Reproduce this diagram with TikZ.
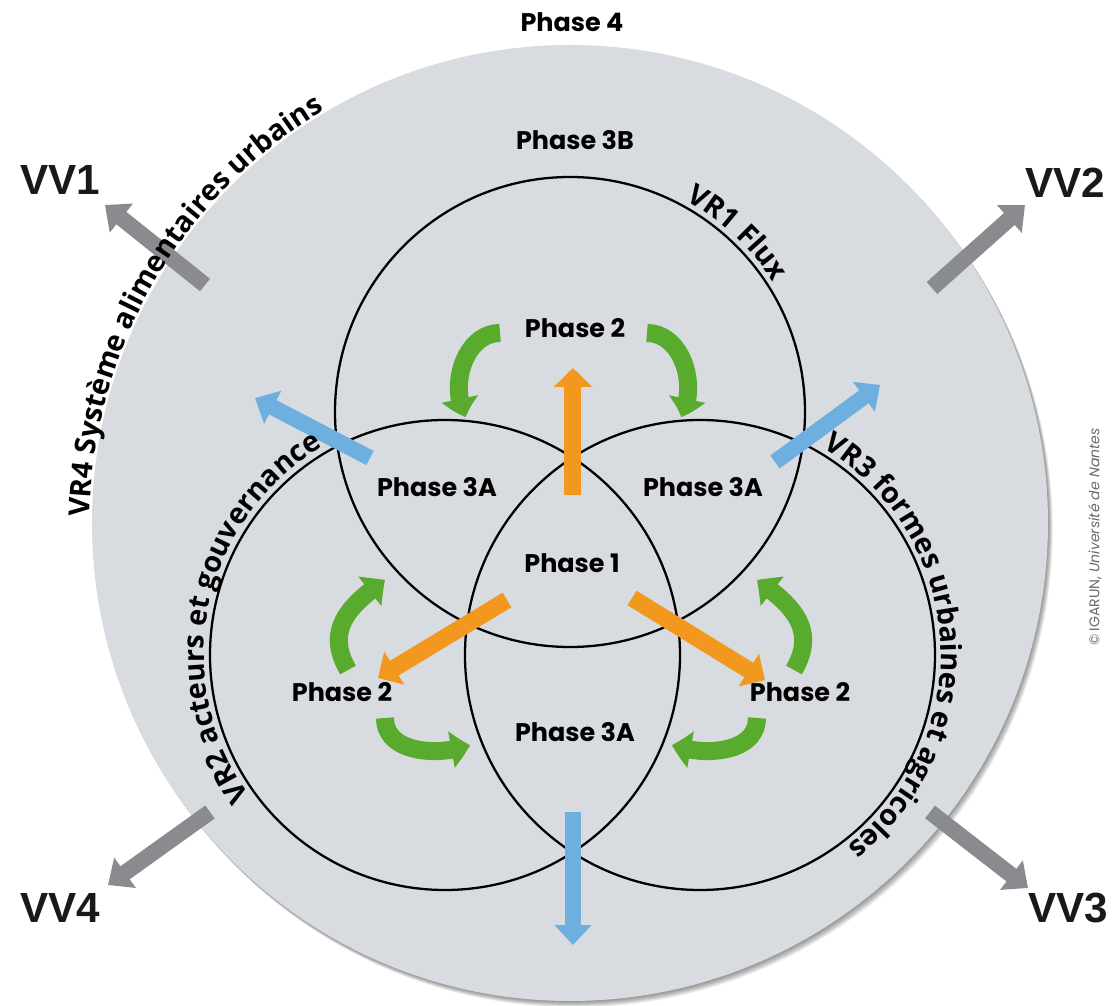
\documentclass[tikz,border=0pt]{standalone}
\usepackage{fontspec}
\usetikzlibrary{arrows.meta,bending,calc,decorations.text}

\newfontfamily\phasefont{Poppins}
\newfontfamily\vrfont{Open Sans}
\newfontfamily\vvfont{Liberation Sans}

\definecolor{discgray}{RGB}{216,219,223}
\definecolor{vvgray}{RGB}{137,139,142}
\definecolor{flowblue}{RGB}{109,176,224}
\definecolor{floworange}{RGB}{243,152,30}
\definecolor{loopgreen}{RGB}{88,171,44}
\definecolor{creditgray}{RGB}{105,105,108}

\begin{document}
\begin{tikzpicture}[scale=2,
    phase/.style={font=\phasefont\bfseries\fontsize{14.5}{16}\selectfont},
    vv/.style={font=\vvfont\bfseries\fontsize{24}{27}\selectfont, text=black!90},
    ring/.style={draw=black, line width=1.3pt},
    grayarrow/.style={vvgray, line width=0.32cm, -{Triangle[width=0.72cm,length=0.42cm]}},
    bluearrow/.style={flowblue, line width=0.32cm, -{Triangle[width=0.72cm,length=0.40cm]}},
    orangearrow/.style={floworange, line width=0.34cm, -{Triangle[width=0.75cm,length=0.38cm]}},
    greenarrow/.style={loopgreen, line width=0.36cm, -{Triangle[width=0.72cm,length=0.38cm,bend]}},
    vrtext/.style={decorate, decoration={text along path, text align=center,
        text={|\vrfont\bfseries\fontsize{16.4}{18}\selectfont|#1}}}
]
    \useasboundingbox (-5.70,-4.83) rectangle (5.48,5.23);
    \fill[white] (-5.70,-4.83) rectangle (5.48,5.23);

    % phase 4 disc and its shadow
    \foreach \k in {1,...,8}
        \fill[black, opacity=0.06] (0.006*\k,-0.008*\k) circle (4.78);
    \fill[discgray] (0,0) circle (4.78);

    \coordinate (c1) at (0,1.11);
    \coordinate (c2) at (-1.25,-1.32);
    \coordinate (c3) at (1.30,-1.32);
    \draw[ring] (c1) circle (2.35);
    \draw[ring] (c2) circle (2.35);
    \draw[ring] (c3) circle (2.35);

    \node[phase] (p4) at (0.02,5.01) {Phase 4};
    \node[phase] (p3b) at (0.05,3.83) {Phase 3B};
    \node[phase] (p2t) at (0.05,1.95) {Phase 2};
    \node[phase] (p3l) at (-1.33,0.36) {Phase 3A};
    \node[phase] (p3r) at (1.33,0.36) {Phase 3A};
    \node[phase] (p1) at (0.02,-0.40) {Phase 1};
    \node[phase] (p2l) at (-2.28,-1.69) {Phase 2};
    \node[phase] (p2r) at (2.30,-1.69) {Phase 2};
    \node[phase] (p3d) at (0.05,-2.09) {Phase 3A};

    \node[vv] (vv1) at (-5.10,3.43) {VV1};
    \node[vv] (vv2) at (4.95,3.40) {VV2};
    \node[vv] (vv3) at (4.98,-3.85) {VV3};
    \node[vv] (vv4) at (-5.10,-3.85) {VV4};

    % outgoing arrows
    \coordinate (g1a) at (-3.65,2.38);  \coordinate (g1b) at (-4.65,3.18);
    \coordinate (g2a) at (3.62,2.35);   \coordinate (g2b) at (4.55,3.18);
    \coordinate (g3a) at (3.60,-2.89);  \coordinate (g3b) at (4.58,-3.65);
    \coordinate (g4a) at (-3.60,-2.89); \coordinate (g4b) at (-4.62,-3.62);
    \draw[grayarrow] (g1a) -- (g1b);
    \draw[grayarrow] (g2a) -- (g2b);
    \draw[grayarrow] (g3a) -- (g3b);
    \draw[grayarrow] (g4a) -- (g4b);

    \coordinate (b1a) at (-2.00,0.65);  \coordinate (b1b) at (-3.15,1.25);
    \coordinate (b2a) at (2.05,0.61);   \coordinate (b2b) at (3.10,1.38);
    \coordinate (b3a) at (0.03,-2.89);  \coordinate (b3b) at (0.03,-4.22);
    \draw[bluearrow] (b1a) -- (b1b);
    \draw[bluearrow] (b2a) -- (b2b);
    \draw[bluearrow] (b3a) -- (b3b);

    \coordinate (o1a) at (0.03,0.28);   \coordinate (o1b) at (0.03,1.55);
    \coordinate (o2a) at (-0.63,-0.77); \coordinate (o2b) at (-1.92,-1.55);
    \coordinate (o3a) at (0.62,-0.75);  \coordinate (o3b) at (1.95,-1.57);
    \draw[orangearrow] (o1a) -- (o1b);
    \draw[orangearrow] (o2a) -- (o2b);
    \draw[orangearrow] (o3a) -- (o3b);

    % loops round each phase 2
    \draw[greenarrow] (-0.70,1.90) to[out=180,in=120] (-1.04,1.06);
    \draw[greenarrow] (0.77,1.90) to[out=0,in=60] (1.11,1.06);
    \draw[greenarrow] (-2.22,-1.47) to[out=120,in=215,looseness=1.2] (-1.85,-0.57);
    \draw[greenarrow] (2.24,-1.47) to[out=60,in=-35,looseness=1.2] (1.87,-0.57);
    \draw[greenarrow] (-1.85,-1.95) to[out=-90,in=200] (-1.00,-2.22);
    \draw[greenarrow] (1.87,-1.95) to[out=-90,in=-20] (1.02,-2.22);

    % ring names
    \path[vrtext={VR4 Système alimentaires urbains}] (190:4.80) arc[start angle=190, end angle=110, radius=4.80];
    \path[vrtext={VR1 Flux}] ($(c1)+(80:2.41)$) arc[start angle=80, end angle=14, radius=2.41];
    \path[vrtext={VR2 acteurs et gouvernance}] ($(c2)+(220:2.41)$) arc[start angle=220, end angle=116, radius=2.41];
    \path[vrtext={VR3 formes urbaines et agricoles}] ($(c3)+(65:2.41)$) arc[start angle=65, end angle=-58, radius=2.41];

    \node[rotate=90, font=\phasefont\fontsize{8}{9}\selectfont, text=creditgray] (credit) at (5.25,-0.14) {© IGARUN, \textit{Université de Nantes}};
\end{tikzpicture}
\end{document}
